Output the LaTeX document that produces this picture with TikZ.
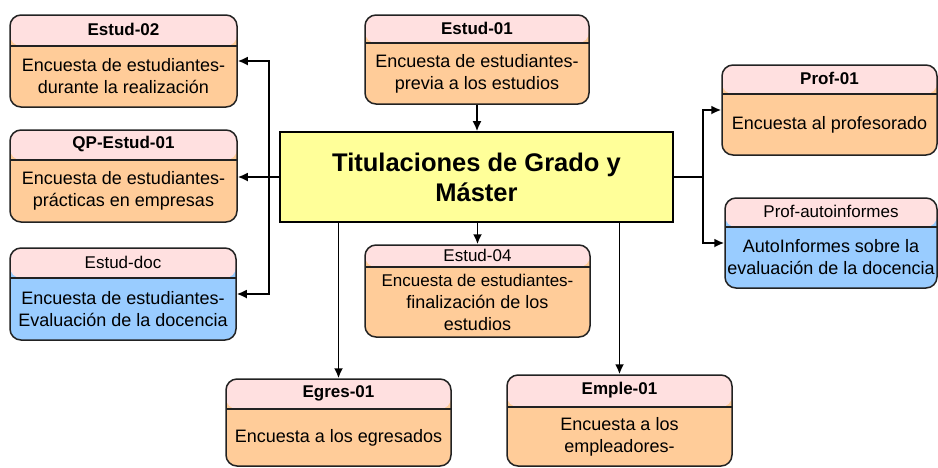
\documentclass[tikz,border=0pt]{standalone}
\usepackage{fontspec}
\setmainfont{Liberation Sans}
\usetikzlibrary{arrows.meta,calc}
\definecolor{headcol}{HTML}{FFE0E0}
\definecolor{orangecol}{HTML}{FFCC99}
\definecolor{bluecol}{HTML}{99CCFF}
\definecolor{yellowcol}{HTML}{FFFF99}
\definecolor{linecol}{HTML}{222222}
\tikzset{
  survbox/.style={draw=linecol, line width=1.5pt, rounded corners=11pt, inner sep=0pt},
  headtxt/.style={inner sep=0pt, font=\fontsize{17}{20}\selectfont},
  bodytxt/.style={inner sep=0pt, align=center, font=\fontsize{18}{22}\selectfont},
  titlebox/.style={draw=black, line width=1.6pt, fill=yellowcol, inner sep=0pt,
     align=center, font=\fontsize{25.5}{30}\selectfont\bfseries},
  conn/.style={draw=black, line width=1.8pt},
  arr/.style={conn, -{Latex[length=10pt,width=9pt]}}
}
% #1 name, #2 cx, #3 cy, #4 w, #5 h, #6 header height, #7 body colour, #8 header, #9 body
\newcommand\mkbox[9]{%
  \node[survbox, fill=#7, minimum width=#4pt, minimum height=#5pt,
    path picture={
      \fill[headcol] (path picture bounding box.north west) rectangle ([yshift=-#6pt]path picture bounding box.north east);
      \draw[linecol, line width=1.5pt] ([yshift=-#6pt]path picture bounding box.north west) -- ([yshift=-#6pt]path picture bounding box.north east);
    }] (#1) at (#2,#3) {};
  \node[headtxt] (#1h) at ([yshift=-0.5*#6pt]#1.north) {#8};
  \node[bodytxt] (#1b) at ($(#1.south)!0.5!([yshift=-#6pt]#1.north)$) {#9};
}
\begin{document}
\begin{tikzpicture}[x=1pt, y=-1pt]
\useasboundingbox (0,0) rectangle (938,467);

\mkbox{e02}{123.5}{61}{227}{92}{31}{orangecol}{\bfseries Estud-02}{Encuesta de estudiantes-\\durante la realización}
\mkbox{qp}{123.5}{176}{227}{92}{30}{orangecol}{\bfseries QP-Estud-01}{Encuesta de estudiantes-\\prácticas en empresas}
\mkbox{edoc}{123}{294}{226}{92}{30}{bluecol}{Estud-doc}{Encuesta de estudiantes-\\Evaluación de la docencia}
\mkbox{e01}{477}{59.5}{224}{89}{28}{orangecol}{\bfseries Estud-01}{Encuesta de estudiantes-\\previa a los estudios}
\mkbox{p01}{829.5}{110}{215}{90}{29}{orangecol}{\bfseries Prof-01}{Encuesta al profesorado}
\mkbox{pauto}{831}{243}{212}{90}{29}{bluecol}{Prof-autoinformes}{AutoInformes sobre la\\evaluación de la docencia}
\mkbox{e04}{477.5}{291}{225}{92}{22}{orangecol}{Estud-04}{\fontsize{17}{20.5}\selectfont Encuesta de estudiantes-\\finalización de los\\estudios}
\mkbox{egres}{338.5}{422.5}{225}{87}{30}{orangecol}{\bfseries Egres-01}{Encuesta a los egresados}
\mkbox{emple}{619.5}{420.5}{225}{91}{32}{orangecol}{\bfseries Emple-01}{Encuesta a los\\empleadores-}

\node[titlebox, minimum width=393pt, minimum height=90pt] (central) at (476.5,177)
  {Titulaciones de Grado y\\Máster};

% connectors
\coordinate (jl) at (269,177);
\coordinate (jr) at (703,177);
\draw[arr] (e01.south) -- (e01.south |- central.north);
\draw[arr] (central.west) -- (central.west -| qp.east);
\draw[arr] (jl) |- (e02.east);
\draw[arr] (jl) |- (edoc.east);
\draw[conn] (central.east) -- (jr);
\draw[arr] (jr) |- (p01.west);
\draw[arr] (jr) |- (pauto.west);
\draw[arr] (egres.north |- central.south) -- (egres.north);
\draw[arr] (e04.north |- central.south) -- (e04.north);
\draw[arr] (emple.north |- central.south) -- (emple.north);
\end{tikzpicture}
\end{document}
